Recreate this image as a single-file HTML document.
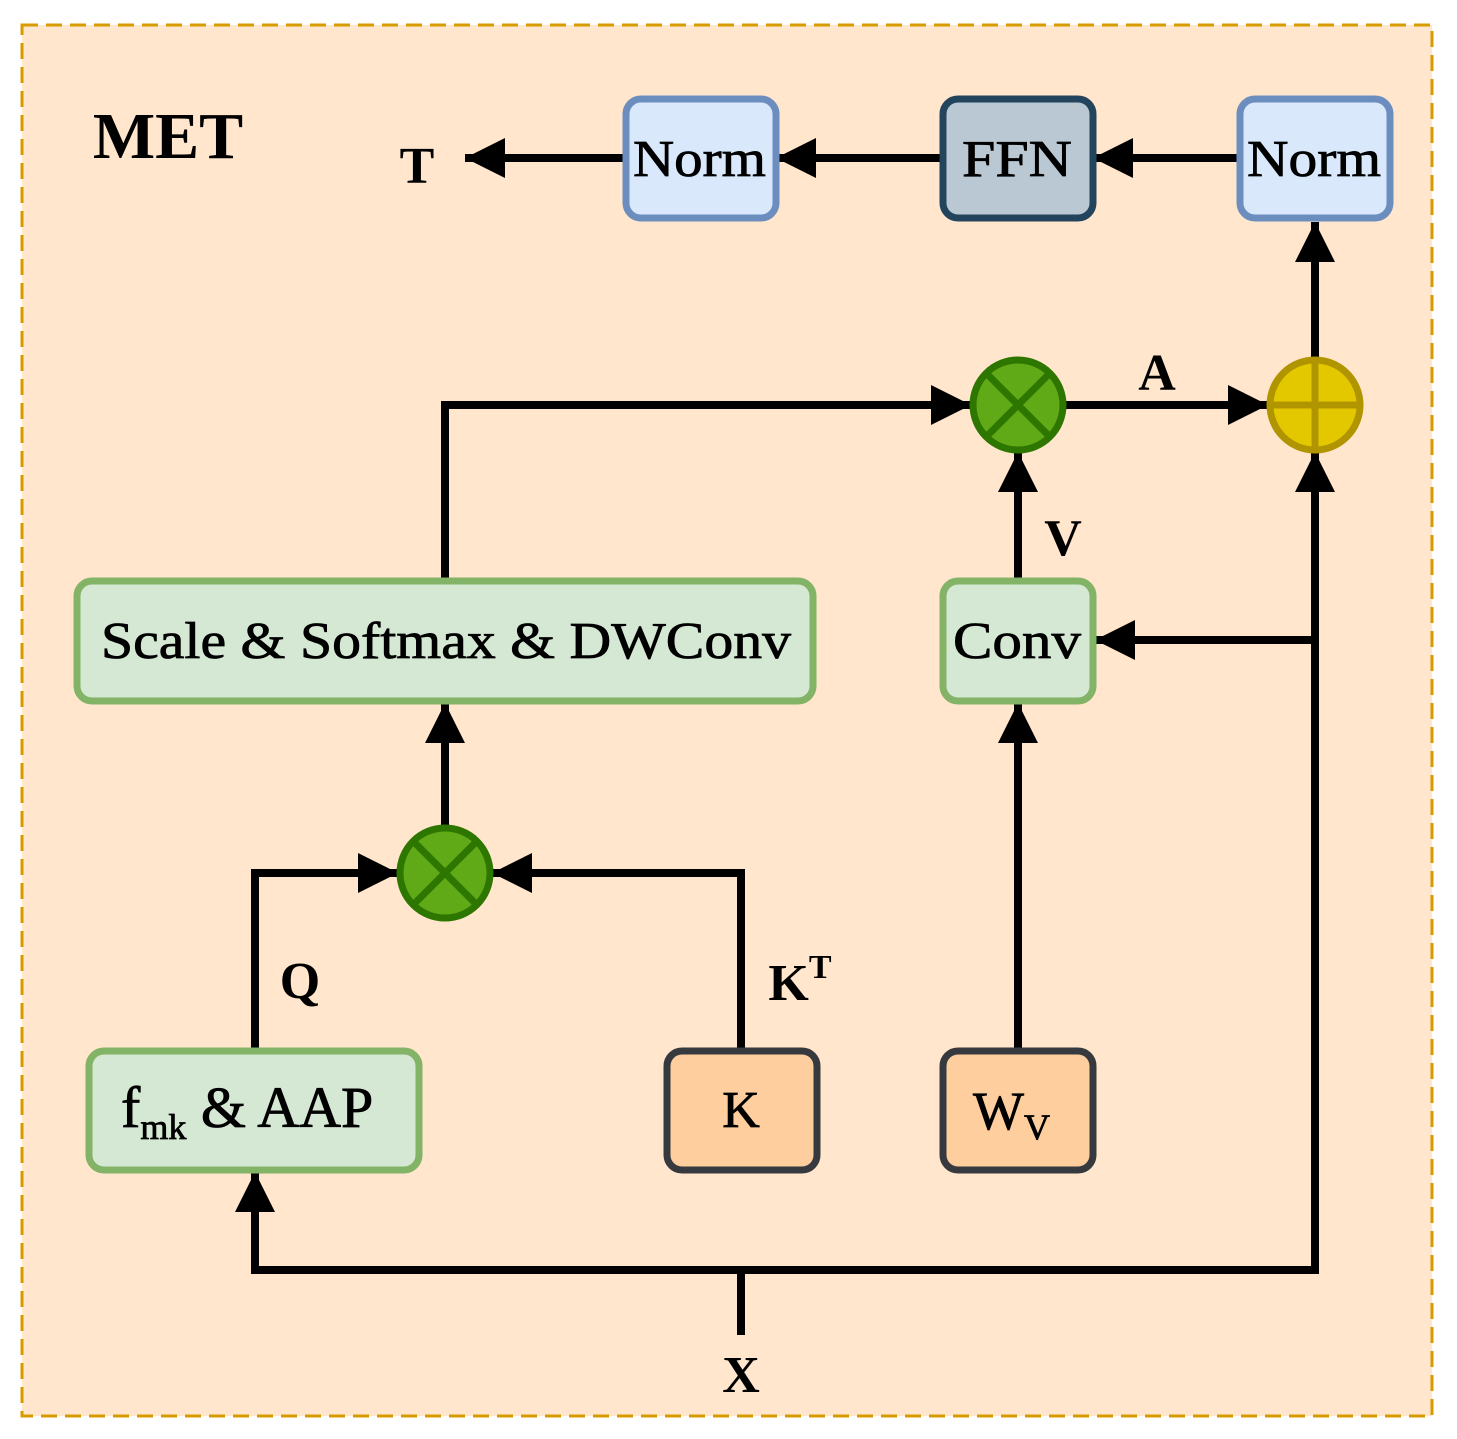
<!DOCTYPE html>
<html><head><style>body{margin:0;background:#fff}svg{display:block}</style></head><body>
<svg width="1457" height="1439" viewBox="0 0 1457 1439" xmlns="http://www.w3.org/2000/svg" font-family="Liberation Serif, serif">
<defs><marker id="a" markerWidth="5" markerHeight="5" refX="5" refY="2.5" orient="auto" markerUnits="strokeWidth"><path d="M0,0 L5,2.5 L0,5 Z" fill="#000"/></marker></defs>
<rect x="22" y="25" width="1410" height="1391" fill="#FFE6CC" stroke="#D79B00" stroke-width="3" stroke-dasharray="16,8"/>
<g stroke="#000" stroke-width="8" fill="none">
<path d="M626,158 H465" marker-end="url(#a)"/>
<path d="M943,158 H776" marker-end="url(#a)"/>
<path d="M1240,158 H1093" marker-end="url(#a)"/>
<path d="M1315,360 V222" marker-end="url(#a)"/>
<path d="M445,581 V405 H971" marker-end="url(#a)"/>
<path d="M1063,405 H1268" marker-end="url(#a)"/>
<path d="M1018,581 V452" marker-end="url(#a)"/>
<path d="M741,1335 V1270"/>
<path d="M1315,1270 H255 V1172" marker-end="url(#a)"/>
<path d="M1315,1274 V452" marker-end="url(#a)"/>
<path d="M1315,640 H1095" marker-end="url(#a)"/>
<path d="M255,1051 V873 H398" marker-end="url(#a)"/>
<path d="M741,1051 V873 H492" marker-end="url(#a)"/>
<path d="M445,828 V703" marker-end="url(#a)"/>
<path d="M1018,1051 V703" marker-end="url(#a)"/>
</g>
<g stroke-width="7">
<rect x="626" y="99" width="150" height="119" rx="15" fill="#DAE8FC" stroke="#6C8EBF"/>
<rect x="943" y="99" width="150" height="119" rx="15" fill="#BAC8D3" stroke="#23445D"/>
<rect x="1240" y="99" width="150" height="119" rx="15" fill="#DAE8FC" stroke="#6C8EBF"/>
<rect x="77" y="581" width="736" height="120" rx="15" fill="#D5E8D4" stroke="#82B366"/>
<rect x="943" y="581" width="150" height="120" rx="15" fill="#D5E8D4" stroke="#82B366"/>
<rect x="89" y="1051" width="330" height="119" rx="15" fill="#D5E8D4" stroke="#82B366"/>
<rect x="667" y="1051" width="150" height="119" rx="15" fill="#FFCE9F" stroke="#36393D"/>
<rect x="943" y="1051" width="150" height="119" rx="15" fill="#FFCE9F" stroke="#36393D"/>
<circle cx="1018" cy="405" r="45" fill="#60A917" stroke="#2D7600"/>
<path d="M986,373 L1050,437 M1050,373 L986,437" stroke="#2D7600"/>
<circle cx="445" cy="873" r="45" fill="#60A917" stroke="#2D7600"/>
<path d="M413,841 L477,905 M477,841 L413,905" stroke="#2D7600"/>
<circle cx="1315" cy="405" r="45" fill="#E3C800" stroke="#B09500"/>
<path d="M1270,405 H1360 M1315,360 V450" stroke="#B09500"/>
</g>
<g font-size="52" fill="#000" stroke="#000" stroke-width="0.8">
<text x="633" y="176" textLength="133" lengthAdjust="spacingAndGlyphs">Norm</text>
<text x="962" y="176" textLength="110" lengthAdjust="spacingAndGlyphs">FFN</text>
<text x="1247" y="176" textLength="134" lengthAdjust="spacingAndGlyphs">Norm</text>
<text x="101" y="658" textLength="690" lengthAdjust="spacingAndGlyphs">Scale &amp; Softmax &amp; DWConv</text>
<text x="953" y="658" textLength="128" lengthAdjust="spacingAndGlyphs">Conv</text>
<text x="121" y="1127" font-size="58">f<tspan font-size="36" dy="12">mk</tspan><tspan dy="-12"> &amp; AAP</tspan></text>
<text x="741" y="1127" text-anchor="middle">K</text>
<text x="973" y="1129" font-size="54">W<tspan font-size="36" dy="10">V</tspan></text>
</g>
<g font-size="52" text-anchor="middle" fill="#000" font-weight="bold">
<text x="168" y="158" font-size="66">MET</text>
<text x="417" y="183">T</text>
<text x="1157" y="390">A</text>
<text x="1063" y="555">V</text>
<text x="300" y="998">Q</text>
<text x="800" y="1000">K<tspan font-size="34" dy="-22">T</tspan></text>
<text x="741" y="1392">X</text>
</g>
</svg>
</body></html>
